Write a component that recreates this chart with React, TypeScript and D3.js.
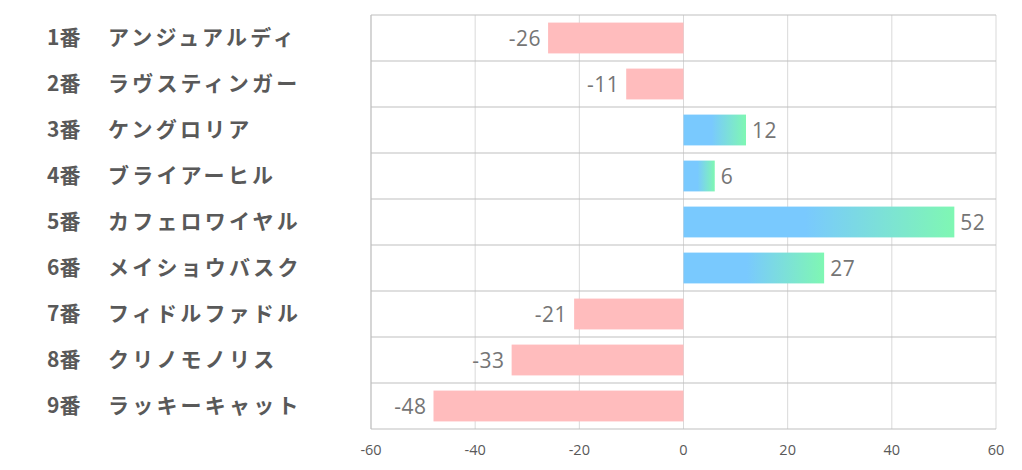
import React from "react";
import * as d3 from "d3";

const numbers = ["1番", "2番", "3番", "4番", "5番", "6番", "7番", "8番", "9番"];
const names = ["アンジュアルディ", "ラヴスティンガー", "ケングロリア", "ブライアーヒル", "カフェロワイヤル", "メイショウバスク", "フィドルファドル", "クリノモノリス", "ラッキーキャット"];
const values = [-26, -11, 12, 6, 52, 27, -21, -33, -48];
const ticks = [-60, -40, -20, 0, 20, 40, 60];

const W = 1022, H = 470;
const left = 371, right = 996, top = 15, bottom = 429;

export default function App() {
  const x = d3.scaleLinear().domain([-60, 60]).range([left, right]);
  const y = d3.scaleBand<number>().domain(d3.range(values.length)).range([top, bottom]).paddingInner(0.33).paddingOuter(0.165);
  const step = y.step();
  const font = "'Noto Sans CJK JP', 'Noto Sans', sans-serif";
  return (
    <svg width={W} height={H} style={{ position: "absolute", left: 0, top: 0 }}>
      <defs>
        <linearGradient id="pos" x1="0" x2="1" y1="0" y2="0">
          <stop offset="0.45" stopColor="#79C9FE" />
          <stop offset="1" stopColor="#7FF7B3" />
        </linearGradient>
      </defs>
      <rect width={W} height={H} fill="#fff" />
      {ticks.map((t) => (
        <line key={"v" + t} x1={x(t)} x2={x(t)} y1={top} y2={bottom} stroke="#d9d9d9" strokeWidth={1} />
      ))}
      {d3.range(values.length + 1).map((i) => (
        <line key={"h" + i} x1={left} x2={right} y1={top + i * step} y2={top + i * step} stroke="#bfbfbf" strokeWidth={1} />
      ))}
      <line x1={left} x2={left} y1={top} y2={bottom} stroke="#bfbfbf" />
      {values.map((v, i) => {
        const x0 = x(Math.min(0, v));
        const w = Math.abs(x(v) - x(0));
        const yy = y(i)!;
        return (
          <g key={i}>
            <rect x={x0} y={yy} width={w} height={y.bandwidth()} fill={v < 0 ? "#FFBCBD" : "url(#pos)"} />
            <text
              x={v < 0 ? x(v) - 7 : x(v) + 6}
              y={yy + y.bandwidth() / 2 + 8}
              textAnchor={v < 0 ? "end" : "start"}
              fontSize={21}
              letterSpacing={0.5}
              fill="#757575"
              fontFamily="'Open Sans', sans-serif"
            >
              {v}
            </text>
          </g>
        );
      })}
      {values.map((_, i) => {
        const cy = top + i * step + step / 2 + 7;
        return (
          <g key={"l" + i} fontFamily={font} fontWeight="bold" fontSize={21} fill="#595959">
            <text x={47} y={cy}>{numbers[i]}</text>
            <text x={108} y={cy} letterSpacing={3.2}>{names[i]}</text>
          </g>
        );
      })}
      {ticks.map((t) => (
        <text key={"t" + t} x={x(t)} y={455} textAnchor="middle" fontSize={14.5} fill="#595959" fontFamily="'Open Sans', sans-serif">
          {t}
        </text>
      ))}
    </svg>
  );
}
